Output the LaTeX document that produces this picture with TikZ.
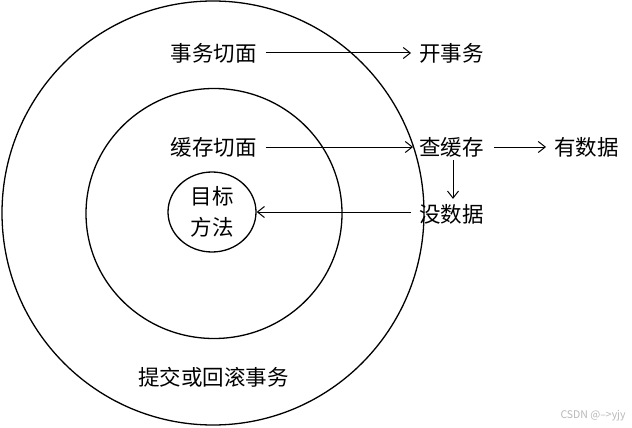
\documentclass[tikz,border=0pt]{standalone}
\usepackage{fontspec}
\setmainfont{Noto Sans CJK SC}
\usetikzlibrary{arrows.meta,shapes.geometric}
\begin{document}
\begin{tikzpicture}[x=1pt,y=-1pt,
  lbl/.style={inner sep=0pt,font=\fontsize{21.5pt}{25pt}\selectfont},
  ring/.style={draw,line width=1.3pt,ellipse,inner sep=0pt},
  conn/.style={line width=1pt,-{Straight Barb[length=7pt,width=11pt,line width=1pt]}}
]
\useasboundingbox (0,0) rectangle (632,428);
\fill[white] (0,0) rectangle (632,428);
\node[ring,minimum width=422pt,minimum height=424pt] (outer) at (213,213) {};
\node[ring,minimum width=256pt,minimum height=250pt] (inner) at (214,213.5) {};
\node[ring,minimum width=88pt,minimum height=80pt,align=center,font=\fontsize{21.5pt}{31pt}\selectfont] (target) at (212,212) {目标\\方法};
\node[lbl] (txqm) at (213.5,53) {事务切面};
\node[lbl] (kaisw) at (451.5,53) {开事务};
\node[lbl] (hcqm) at (213.5,147) {缓存切面};
\node[lbl] (chahc) at (451.5,147) {查缓存};
\node[lbl] (yousj) at (586.5,147) {有数据};
\node[lbl] (meisj) at (451.5,214) {没数据};
\node[lbl] (tijiao) at (213.5,377) {提交或回滚事务};
\node[inner sep=0pt,text=black!28,font=\fontsize{10.5pt}{11pt}\selectfont] (wm) at (593,416) {CSDN @-->yjy};
\draw[conn,shorten <=9pt,shorten >=8pt] (txqm.east) -- (kaisw.west);
\draw[conn,shorten <=9pt,shorten >=6pt] (hcqm.east) -- (chahc.west);
\draw[conn,shorten <=10pt,shorten >=8pt] (chahc.east) -- (yousj.west);
\draw[conn,shorten <=3pt,shorten >=5pt] ([xshift=1.5pt]chahc.south) -- ([xshift=1.5pt]meisj.north);
\draw[conn,shorten <=8pt] (meisj.west |- target.east) -- (target.east);
\end{tikzpicture}
\end{document}
